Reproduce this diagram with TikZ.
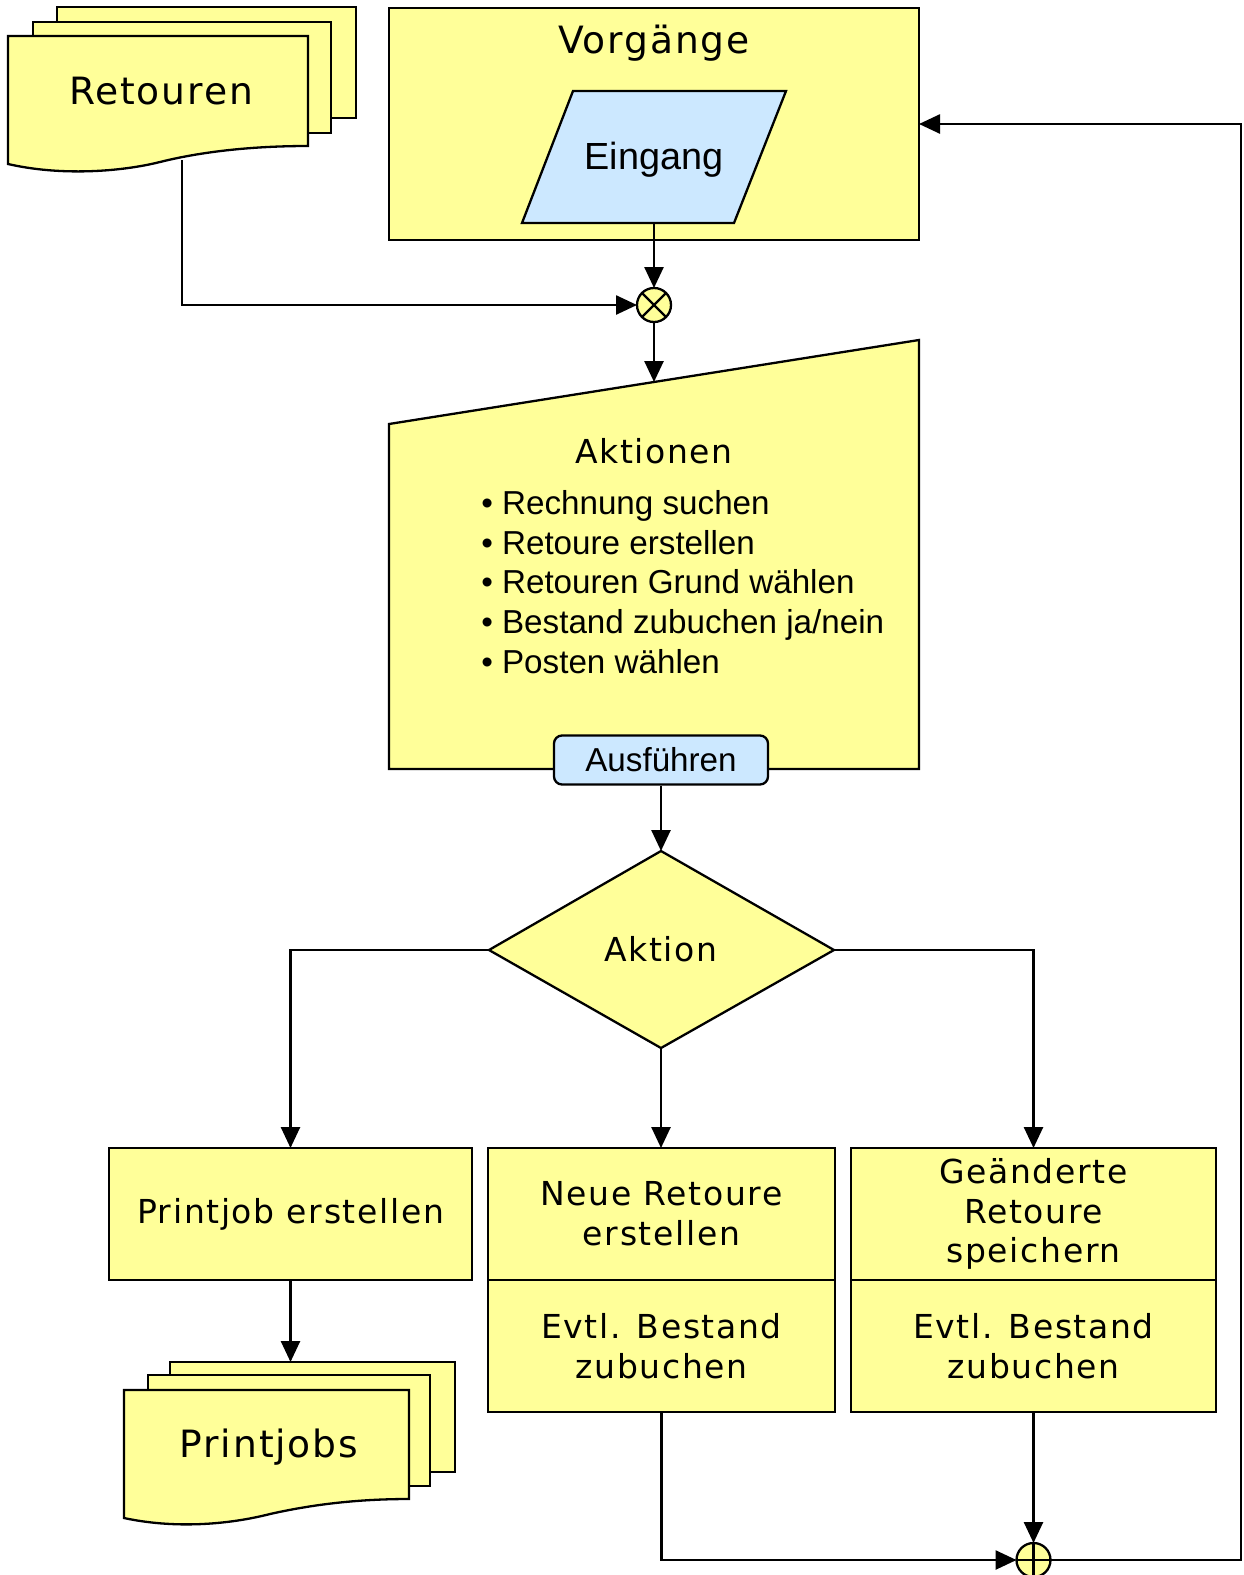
\documentclass[tikz,border=0pt]{standalone}
\usepackage{fontspec}
\setmainfont{Liberation Sans}
\newfontfamily\widefont[LetterSpace=5.0]{DejaVu Sans}
\usetikzlibrary{arrows.meta}
\definecolor{yel}{RGB}{255,255,153}
\definecolor{blu}{RGB}{204,232,255}
\begin{document}
\begin{tikzpicture}[x=1pt,y=-1pt,line width=2.5pt,
  shp/.style={draw=black,fill=yel,line width=2.3pt,line join=miter},
  arr/.style={-{Triangle[length=21pt,width=19pt]},line width=2.6pt},
  big/.style={font=\widefont\fontsize{37.6}{44}\selectfont},
  med/.style={font=\widefont\fontsize{33}{39.7}\selectfont,align=center},
  ari/.style={font=\fontsize{33.2}{39.7}\selectfont},
  box/.style={shp,rectangle,inner sep=0pt,outer sep=0pt,anchor=north west},
  junc/.style={circle,draw=black,fill=yel,line width=2.3pt,minimum size=34pt,inner sep=0pt,outer sep=0pt}]
\useasboundingbox (0,0) rectangle (1243,1575);

% Retouren stack
\draw[shp] (57,7) rectangle (356,118);
\draw[shp] (33,22) rectangle (331,133);
\draw[shp] (8,36) -- (308,36) -- (308,146) .. controls (250,146) and (200,152) .. (160,162)
  .. controls (120,172) and (60,176) .. (8,164) -- cycle;
\node[big] (ret) at (161,91) {Retouren};
\coordinate (retB) at (182,160);

% Vorgaenge
\node[box,minimum width=530pt,minimum height=232pt] (vorg) at (389,8) {};
\node[big] (vtitle) at (654,43) {Vorgänge};
\draw[shp,fill=blu] (573,91) -- (786,91) -- (734,223) -- (522,223) -- cycle;
\node[font=\fontsize{37.8}{44}\selectfont] (eing) at (654,160) {Eingang};
\coordinate (eingB) at (654,223);

% junction
\node[junc] (xor) at (654,305) {};
\draw[line width=2.3pt] (xor.north east) -- (xor.south west) (xor.north west) -- (xor.south east);

% Aktionen
\draw[shp] (389,424) -- (919,340) -- (919,769) -- (389,769) -- cycle;
\coordinate (aktT) at (654,382);
\node[med] (akt) at (654,451) {Aktionen};
\node[ari,align=left,anchor=west,inner sep=0pt] (list) at (480,582) {%
\textbullet\ Rechnung suchen\\
\textbullet\ Retoure erstellen\\
\textbullet\ Retouren Grund wählen\\
\textbullet\ Bestand zubuchen ja/nein\\
\textbullet\ Posten wählen};
\node[ari,draw=black,fill=blu,rounded corners=8pt,minimum width=214pt,minimum height=49pt,inner sep=0pt,line width=2.3pt] (ausf) at (661,760) {Ausführen};

% Diamond
\coordinate (dT) at (661,851);
\coordinate (dR) at (834,950);
\coordinate (dB) at (661,1048);
\coordinate (dL) at (489,950);
\draw[shp] (dT) -- (dR) -- (dB) -- (dL) -- cycle;
\node[med] (aktion) at (661,949) {Aktion};

% bottom boxes
\node[box,med,minimum width=363pt,minimum height=132pt] (pj) at (109,1148) {Printjob erstellen};
\node[box,med,minimum width=347pt,minimum height=132pt] (neu1) at (488,1148) {Neue Retoure\\erstellen};
\node[box,med,minimum width=347pt,minimum height=132pt] (neu2) at (488,1280) {Evtl. Bestand\\zubuchen};
\node[box,med,minimum width=365pt,minimum height=132pt] (ger1) at (851,1148) {Geänderte\\Retoure\\speichern};
\node[box,med,minimum width=365pt,minimum height=132pt] (ger2) at (851,1280) {Evtl. Bestand\\zubuchen};

% Printjobs stack
\draw[shp] (170,1362) rectangle (455,1472);
\draw[shp] (148,1375) rectangle (430,1486);
\draw[shp] (124,1390) -- (409,1390) -- (409,1499) .. controls (355,1499) and (310,1505) .. (270,1514)
  .. controls (235,1523) and (180,1530) .. (124,1518) -- cycle;
\node[big] (pjs) at (269,1447) {Printjobs};
\coordinate (pjsT) at (290.5,1362);

% plus junction
\node[junc] (plus) at (1033.5,1560) {};
\draw[line width=2.3pt] (plus.north) -- (plus.south) (plus.west) -- (plus.east);
\coordinate (fbR) at (1241,124);

% connectors
\draw[arr] (retB) |- (xor.west);
\draw[arr] (eingB) -- (xor.north);
\draw[arr] (xor.south) -- (aktT);
\draw[arr] (ausf.south) -- (ausf.south |- dT);
\draw[arr] (dL) -| (pj.north);
\draw[arr] (dB) -- (dB |- neu1.north);
\draw[arr] (dR) -| (ger1.north);
\draw[arr] (pj.south) -- (pjsT);
\draw[arr] (neu2.south) |- (plus.west);
\draw[arr] (ger2.south) -- (plus.north);
\draw[arr] (plus.east) -| (fbR) -- (fbR -| vorg.east);
\end{tikzpicture}
\end{document}
